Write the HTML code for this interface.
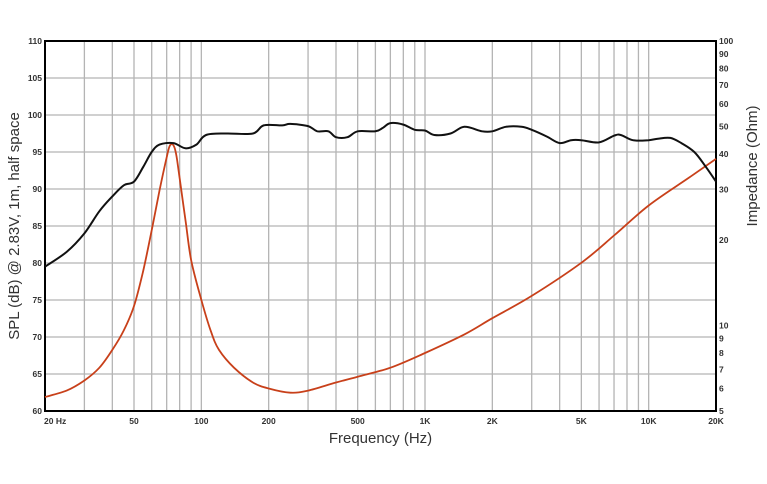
<!DOCTYPE html>
<html><head><meta charset="utf-8"><style>
body{margin:0;background:#fff;width:767px;height:484px;overflow:hidden}
svg{display:block;font-family:"Liberation Sans",sans-serif}
</style></head><body>
<svg id="chart" width="767" height="484"></svg>
<script>
const splFreqs=[20,25,30,35,40,45,50,55,60,65,75,85,95,105,130,170,190,230,250,300,330,370,400,450,500,600,650,700,800,900,1000,1100,1300,1500,1800,2000,2300,2700,3000,3500,4000,4500,5000,6000,7000,7500,8500,10000,11000,12500,14000,16000,18000,20000];
const splValues=[79.5,81.5,84,87,89,90.5,91,93,95,96,96.2,95.5,96,97.3,97.5,97.5,98.6,98.6,98.8,98.5,97.8,97.8,97,97,97.8,97.8,98.3,98.9,98.7,98,97.9,97.3,97.5,98.4,97.8,97.8,98.4,98.4,98,97.1,96.2,96.6,96.6,96.3,97.2,97.3,96.6,96.6,96.8,96.9,96.2,95,93,91];
const impFreqs=[20,25,30,35,40,45,50,55,60,65,70,72,74,76,78,82,85,90,100,110,120,140,170,200,250,300,400,500,700,1000,1500,2000,3000,5000,7000,10000,15000,20000];
const impValues=[5.6,5.9,6.4,7.1,8.2,9.6,11.7,15.6,21.6,29.8,39.0,42.5,43.4,42.0,38.0,28.5,23.4,17,12.3,9.6,8.2,7.1,6.3,6,5.8,5.9,6.3,6.6,7.1,8,9.3,10.6,12.7,16.6,20.7,26.4,32.9,38.5];
const xTickVals=[20,50,100,200,500,1000,2000,5000,10000,20000];
const xTickLabels=["20  Hz","50","100","200","500","1K","2K","5K","10K","20K"];
const splTicks=[60,65,70,75,80,85,90,95,100,105,110];
const impTicks=[5,6,7,8,9,10,20,30,40,50,60,70,80,90,100];

const L=45,R=716,T=41,B=411;
const NS="http://www.w3.org/2000/svg";
const svg=document.getElementById('chart');
function x(f){return L+(Math.log10(f)-Math.log10(20))/3*(R-L);}
function ySpl(v){return B-(v-60)/50*(B-T);}
function yImp(o){return T+(2-Math.log10(o))/Math.log10(20)*(B-T);}
function mk(tag,attrs,name,parent){const e=document.createElementNS(NS,tag);for(const k in attrs)e.setAttribute(k,attrs[k]);


(parent||svg).appendChild(e);return e;}

const grid=mk('g',{stroke:'#b4b4b4','stroke-width':1.3},'grid');
for(let d=10;d<=10000;d*=10){for(let m=1;m<10;m++){const f=d*m;if(f<=20||f>=20000)continue;const xx=x(f);mk('line',{x1:xx,x2:xx,y1:T,y2:B},'v-grid-line',grid);}}
splTicks.forEach(v=>{if(v===60||v===110)return;mk('line',{x1:L,x2:R,y1:ySpl(v),y2:ySpl(v)},'h-grid-line',grid);});
mk('rect',{x:L,y:T,width:R-L,height:B-T,fill:'none',stroke:'#000','stroke-width':2},'plot-border');

splTicks.forEach(v=>{const t=mk('text',{x:L-3,y:ySpl(v)+3,'text-anchor':'end','font-size':8.5,'font-weight':'bold',fill:'#333'},'y-tick-label');t.textContent=v;});
impTicks.forEach(v=>{const t=mk('text',{x:R+3,y:yImp(v)+3,'font-size':8.5,'font-weight':'bold',fill:'#333'},'y2-tick-label');t.textContent=v;});
xTickVals.forEach((f,i)=>{const t=mk('text',{x:i===0?L-1:x(f),y:424,'text-anchor':i===0?'start':'middle','font-size':8.5,'font-weight':'bold',fill:'#333','xml:space':'preserve'},'x-tick-label');t.textContent=xTickLabels[i];});

function path(fs,vs,yf,col,name,w){
  const p=fs.map((f,i)=>[x(f),yf(vs[i])]);
  let d='M'+p[0][0].toFixed(1)+','+p[0][1].toFixed(1);
  for(let i=0;i<p.length-1;i++){
    const p0=p[Math.max(0,i-1)],p1=p[i],p2=p[i+1],p3=p[Math.min(p.length-1,i+2)];
    const c1=[p1[0]+(p2[0]-p0[0])/6,p1[1]+(p2[1]-p0[1])/6];
    const c2=[p2[0]-(p3[0]-p1[0])/6,p2[1]-(p3[1]-p1[1])/6];
    d+='C'+c1[0].toFixed(1)+','+c1[1].toFixed(1)+' '+c2[0].toFixed(1)+','+c2[1].toFixed(1)+' '+p2[0].toFixed(1)+','+p2[1].toFixed(1);
  }
  mk('path',{d:d,fill:'none',stroke:col,'stroke-width':w,'stroke-linejoin':'round'},name);
}
path(impFreqs,impValues,yImp,'#c8401a','impedance-curve',1.8);
path(splFreqs,splValues,ySpl,'#111','spl-curve',2);

let t=mk('text',{x:(L+R)/2,y:443,'text-anchor':'middle','font-size':15,fill:'#333'},'x-axis-title');t.textContent='Frequency (Hz)';
t=mk('text',{x:0,y:0,transform:'translate(19,226) rotate(-90)','text-anchor':'middle','font-size':15,fill:'#333'},'y-axis-title');t.textContent='SPL (dB) @ 2.83V, 1m, half space';
t=mk('text',{x:0,y:0,transform:'translate(757,166) rotate(-90)','text-anchor':'middle','font-size':15,fill:'#333'},'y2-axis-title');t.textContent='Impedance (Ohm)';
</script>
</body></html>
